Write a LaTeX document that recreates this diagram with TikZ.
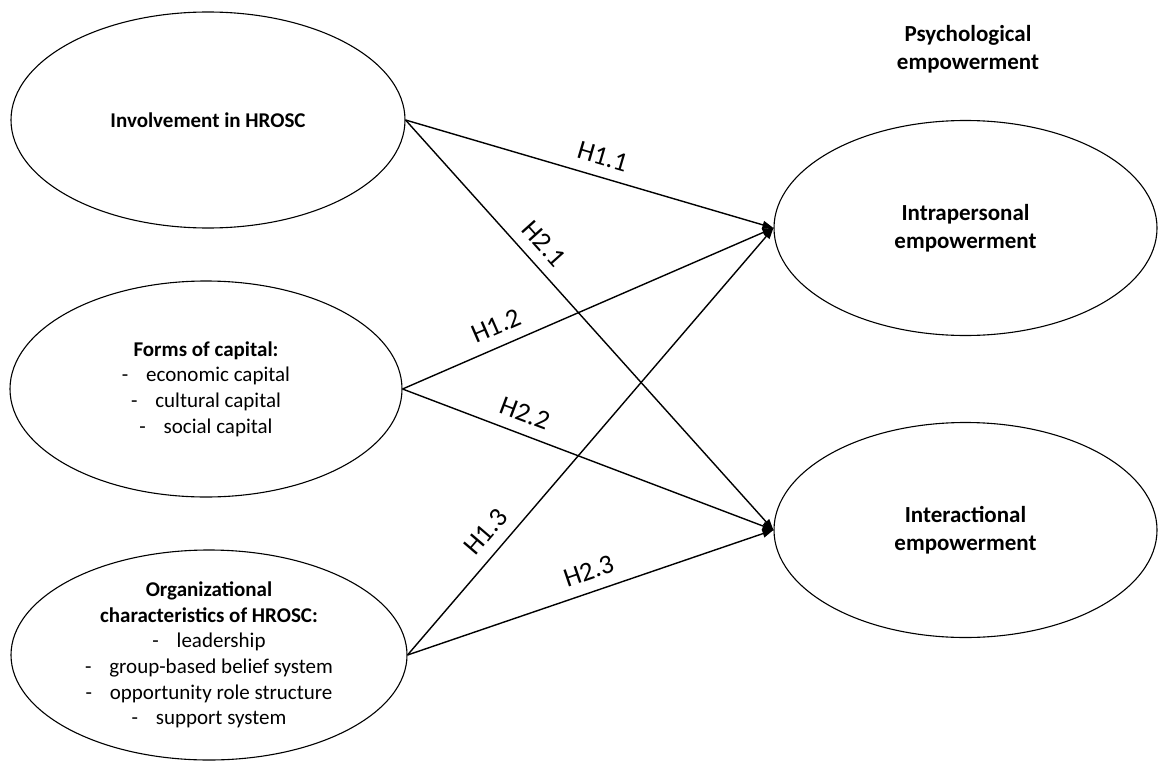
\documentclass[tikz,border=0pt]{standalone}
\usepackage{fontspec}
\setmainfont{Carlito}
\usetikzlibrary{shapes.geometric,arrows.meta}
\begin{document}
\begin{tikzpicture}[x=1pt,y=-1pt,
  construct/.style={draw, ellipse, line width=1.1pt, inner sep=0pt, align=center},
  leftfont/.style={font=\fontsize{21}{25.6}\selectfont},
  rightfont/.style={font=\fontsize{23}{28}\selectfont},
  link/.style={line width=1.4pt, -{Triangle[length=11pt,width=8pt]}},
  hyp/.style={sloped, above=11pt, inner sep=0pt, font=\fontsize{27}{30}\selectfont}
]
\useasboundingbox (0,0) rectangle (1158,760);

% independent constructs
\node[construct, leftfont, minimum width=394pt, minimum height=216pt] (inv) at (208,120)
  {\textbf{Involvement in HROSC}};
\node[construct, leftfont, minimum width=392pt, minimum height=216pt] (cap) at (206,389)
  {\textbf{Forms of capital:}\\
   -\hspace{0.85em}economic capital\\
   -\hspace{0.85em}cultural capital\\
   -\hspace{0.85em}social capital};
\node[construct, leftfont, minimum width=396pt, minimum height=210pt] (org) at (209,655)
  {\textbf{Organizational}\\
   \textbf{characteristics of HROSC:}\\
   -\hspace{0.85em}leadership\\
   -\hspace{0.85em}group-based belief system\\
   -\hspace{0.85em}opportunity role structure\\
   -\hspace{0.85em}support system};

% psychological empowerment
\node[rightfont, align=center, inner sep=0pt] (title) at (968,49)
  {\textbf{Psychological}\\\textbf{empowerment}};
\node[construct, rightfont, minimum width=383pt, minimum height=215pt] (intra) at (965.5,228)
  {\textbf{Intrapersonal}\\\textbf{empowerment}};
\node[construct, rightfont, minimum width=383pt, minimum height=215pt] (inter) at (965.5,530)
  {\textbf{Interactional}\\\textbf{empowerment}};

% hypothesised paths
\draw[link] (inv.east) -- node[hyp, pos=0.52] {H1.1} (intra.west);
\draw[link] (inv.east) -- node[hyp, pos=0.335] {H2.1} (inter.west);
\draw[link] (cap.east) -- node[hyp, pos=0.275] {H1.2} (intra.west);
\draw[link] (cap.east) -- node[hyp, pos=0.31] {H2.2} (inter.west);
\draw[link] (org.east) -- node[hyp, pos=0.257] {H1.3} (intra.west);
\draw[link] (org.east) -- node[hyp, pos=0.513] {H2.3} (inter.west);
\end{tikzpicture}
\end{document}
